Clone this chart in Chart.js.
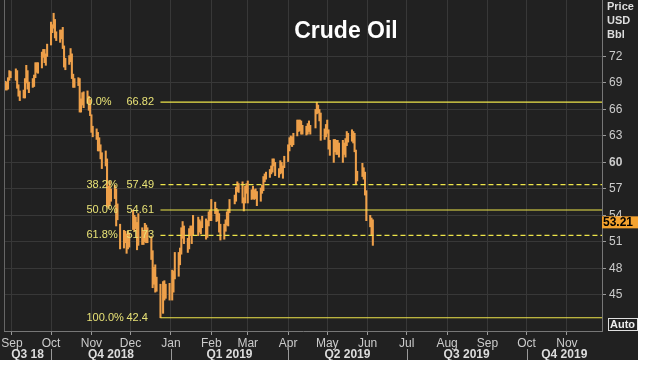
<!DOCTYPE html>
<html>
<head>
<meta charset="utf-8">
<script src="https://cdn.jsdelivr.net/npm/chart.js@4.4.1/dist/chart.umd.min.js"></script>
<style>
html, body { margin:0; padding:0; background:#fff; }
#wrap { position:absolute; left:0; top:0; width:638px; height:360px; }
</style>
</head>
<body>
<div id="wrap"><canvas id="chart" width="638" height="360"></canvas></div>
<script>
// ==========================================================
// DATA
// ==========================================================

const tradeDates = [
  "2018-08-27","2018-08-28","2018-08-29","2018-08-30","2018-08-31",
  "2018-09-04","2018-09-05","2018-09-06","2018-09-07","2018-09-10","2018-09-11","2018-09-12","2018-09-13","2018-09-14","2018-09-17",
  "2018-09-18","2018-09-19","2018-09-20","2018-09-21","2018-09-24","2018-09-25","2018-09-26","2018-09-27","2018-09-28",
  "2018-10-01","2018-10-02","2018-10-03","2018-10-04","2018-10-05","2018-10-08","2018-10-09","2018-10-10","2018-10-11","2018-10-12",
  "2018-10-15","2018-10-16","2018-10-17","2018-10-18","2018-10-19","2018-10-22","2018-10-23","2018-10-24","2018-10-25","2018-10-26",
  "2018-10-29","2018-10-30","2018-10-31",
  "2018-11-01","2018-11-02","2018-11-05","2018-11-06","2018-11-07","2018-11-08","2018-11-09","2018-11-12","2018-11-13","2018-11-14",
  "2018-11-15","2018-11-16","2018-11-19","2018-11-20","2018-11-21","2018-11-23","2018-11-26","2018-11-27","2018-11-28","2018-11-29","2018-11-30",
  "2018-12-03","2018-12-04","2018-12-05","2018-12-06","2018-12-07","2018-12-10","2018-12-11","2018-12-12","2018-12-13","2018-12-14",
  "2018-12-17","2018-12-18","2018-12-19","2018-12-20","2018-12-21","2018-12-24","2018-12-26","2018-12-27","2018-12-28","2018-12-31",
  "2019-01-02","2019-01-03","2019-01-04","2019-01-07","2019-01-08","2019-01-09","2019-01-10","2019-01-11","2019-01-14","2019-01-15",
  "2019-01-16","2019-01-17","2019-01-18","2019-01-22","2019-01-23","2019-01-24","2019-01-25","2019-01-28","2019-01-29","2019-01-30","2019-01-31",
  "2019-02-01","2019-02-04","2019-02-05","2019-02-06","2019-02-07","2019-02-08","2019-02-11","2019-02-12","2019-02-13","2019-02-14",
  "2019-02-15","2019-02-19","2019-02-20","2019-02-21","2019-02-22","2019-02-25","2019-02-26","2019-02-27","2019-02-28",
  "2019-03-01","2019-03-04","2019-03-05","2019-03-06","2019-03-07","2019-03-08","2019-03-11","2019-03-12","2019-03-13","2019-03-14",
  "2019-03-15","2019-03-18","2019-03-19","2019-03-20","2019-03-21","2019-03-22","2019-03-25","2019-03-26","2019-03-27","2019-03-28","2019-03-29",
  "2019-04-01","2019-04-02","2019-04-03","2019-04-04","2019-04-05","2019-04-08","2019-04-09","2019-04-10","2019-04-11","2019-04-12",
  "2019-04-15","2019-04-16","2019-04-17","2019-04-18","2019-04-22","2019-04-23","2019-04-24","2019-04-25","2019-04-26","2019-04-29","2019-04-30",
  "2019-05-01","2019-05-02","2019-05-03","2019-05-06","2019-05-07","2019-05-08","2019-05-09","2019-05-10","2019-05-13","2019-05-14","2019-05-15",
  "2019-05-16","2019-05-17","2019-05-20","2019-05-21","2019-05-22","2019-05-23","2019-05-24","2019-05-28","2019-05-29","2019-05-30","2019-05-31",
  "2019-06-03","2019-06-04","2019-06-05"
];

const highs = [
  69.2, 69.1, 69.6, 70.4, 70.3,
  70.6, 70.4, 68.8, 68.1, 68.2, 69.5, 71.0, 70.4, 69.1, 69.5, 69.9, 71.3, 71.3, 71.3, 72.5, 72.8, 72.8, 72.3, 73.4,
  75.9, 75.6, 76.9, 76.2, 74.8, 75.0, 75.0, 75.3, 73.2, 71.8, 72.1, 72.9, 72.3, 70.0, 69.5, 69.6, 69.5, 67.2, 67.9, 68.0, 68.1, 67.5, 67.1,
  65.4, 64.1, 63.8, 63.4, 62.8, 62.0, 61.1, 61.3, 60.4, 57.3, 57.9, 57.0, 57.4, 57.0, 55.3, 53.0, 52.3, 52.2, 51.9, 52.2, 52.0,
  54.6, 54.0, 53.8, 53.2, 54.2, 52.6, 52.2, 53.1, 52.9, 52.6, 51.6, 50.0, 48.1, 48.4, 47.0, 46.2, 46.5, 46.6, 46.2, 46.3,
  47.8, 47.7, 49.8, 49.8, 50.3, 52.6, 53.3, 52.8, 51.4, 52.5, 52.8, 52.8, 54.0, 53.8, 53.5, 53.3, 53.9, 53.6, 53.4, 54.4, 54.6,
  55.8, 55.5, 54.8, 54.6, 54.2, 53.0, 53.0, 53.5, 54.4, 54.7, 55.8, 56.3, 57.2, 57.8, 57.6, 57.8, 56.0, 57.3, 57.6,
  57.9, 56.9, 57.3, 56.9, 57.0, 56.7, 57.1, 57.4, 58.4, 58.7, 58.9, 59.2, 59.6, 60.4, 60.4, 60.0, 59.3, 60.2, 60.0, 59.6, 60.7,
  62.0, 62.8, 63.0, 62.9, 63.3, 64.8, 64.8, 64.8, 64.7, 64.2, 64.1, 64.4, 64.7, 64.2, 66.0, 66.82, 66.5, 66.0, 65.6, 63.8, 64.3,
  64.8, 63.7, 62.5, 62.6, 62.6, 62.5, 62.5, 62.2, 62.5, 62.2, 62.7, 63.5, 63.3, 63.7, 63.5, 63.3, 61.4, 59.0, 59.9, 59.4, 58.9, 56.8,
  54.0, 53.7, 53.5
];

const lows = [
  68.2, 68.2, 68.3, 69.3, 69.6,
  69.3, 68.4, 67.5, 67.0, 67.3, 67.3, 69.0, 68.3, 67.9, 68.5, 68.6, 69.6, 70.2, 70.1, 70.7, 71.9, 71.3, 71.0, 72.0,
  73.3, 74.7, 75.2, 74.1, 73.8, 73.6, 74.0, 72.9, 70.8, 70.5, 71.1, 71.4, 69.5, 68.5, 68.5, 68.7, 65.7, 65.7, 66.5, 66.2, 66.7, 65.9, 65.3,
  63.4, 62.9, 62.6, 61.3, 61.3, 60.4, 59.3, 59.6, 55.0, 54.8, 55.1, 55.6, 55.9, 52.8, 53.5, 50.2, 50.3, 50.9, 49.7, 50.2, 50.4,
  52.4, 52.2, 52.5, 50.1, 50.6, 50.7, 50.7, 51.0, 50.9, 50.9, 49.0, 45.8, 46.2, 45.3, 45.4, 42.4, 42.9, 44.4, 44.6, 44.4,
  44.4, 45.3, 46.8, 47.1, 48.4, 49.6, 51.4, 50.8, 49.8, 50.2, 51.7, 50.8, 51.8, 51.7, 52.1, 51.9, 52.6, 51.3, 51.5, 52.8, 53.4,
  53.4, 54.2, 53.3, 53.4, 52.1, 51.2, 51.3, 52.2, 52.9, 52.8, 54.3, 55.3, 55.6, 56.7, 56.6, 55.4, 54.5, 55.4, 56.5,
  55.4, 55.8, 55.9, 55.8, 55.9, 55.1, 55.6, 56.5, 56.8, 57.8, 58.1, 58.3, 58.7, 58.9, 59.6, 58.5, 58.3, 58.7, 58.8, 58.2, 59.4,
  60.1, 61.3, 62.0, 61.8, 62.0, 63.0, 63.5, 63.6, 63.2, 63.2, 63.1, 63.2, 63.5, 63.2, 63.9, 65.5, 65.6, 64.7, 62.5, 62.6, 62.9,
  63.3, 61.5, 60.8, 60.0, 61.2, 60.9, 60.9, 60.6, 60.0, 60.9, 60.6, 61.9, 62.3, 62.4, 62.2, 61.2, 57.5, 57.9, 58.4, 58.1, 56.3, 53.4,
  52.7, 51.7, 50.6
];

const lastPrice = 53.21;

// Fibonacci retracement from the Dec 24 low to the Apr high
const fibStartDate = "2018-12-24";
const fibPcts   = ["0.0%", "38.2%", "50.0%", "61.8%", "100.0%"];
const fibLevels = [66.82, 57.49, 54.61, 51.73, 42.4];

const yTicks = [45, 48, 51, 54, 57, 60, 63, 66, 69, 72];
const monthLabels = ["Sep","Oct","Nov","Dec","Jan","Feb","Mar","Apr","May","Jun","Jul","Aug","Sep","Oct","Nov"];
const quarterLabels = ["Q3 18","Q4 2018","Q1 2019","Q2 2019","Q3 2019","Q4 2019"];
const quarterStarts = ["2018-07-01","2018-10-01","2019-01-01","2019-04-01","2019-07-01","2019-10-01","2020-01-01"];


// ==========================================================
// HELPERS
// ==========================================================

const BASE = Date.UTC(2018, 8, 1);
function dayOffset(s)
{
    return (Date.UTC(+s.slice(0,4), +s.slice(5,7) - 1, +s.slice(8,10)) - BASE) / 864e5;
}

const X_MIN = -6.1, X_MAX = 452.9;
const Y_MIN = 40.9, Y_MAX = 78.4;
const FONT = "'Liberation Sans', Arial, sans-serif";

const monthStarts = monthLabels.map((m, i) => (Date.UTC(2018, 8 + i, 1) - BASE) / 864e5);
const fibStart = dayOffset(fibStartDate);

const barData = tradeDates.map((d, i) => ({ x: dayOffset(d), y: [lows[i], highs[i]] }));

const isDashed = p => p === "38.2%" || p === "61.8%";

const fibSets = fibLevels.map((lvl, i) => ({
    type: "line",
    data: [{ x: fibStart, y: lvl }, { x: X_MAX, y: lvl }],
    borderColor: "#eee54a",
    borderWidth: 1.2,
    borderDash: isDashed(fibPcts[i]) ? [5, 3] : [],
    pointRadius: 0,
    order: 0
}));

function noPad(s)
{
    s.paddingTop = 0; s.paddingBottom = 0;
    s.paddingLeft = 0; s.paddingRight = 0;
}


// ==========================================================
// PLUGINS
// ==========================================================

const background = {
    id: "background",
    beforeDraw(chart)
    {
        const c = chart.ctx;
        c.save();
        c.fillStyle = "#212121";
        c.fillRect(0, 0, chart.width, chart.height);
        c.restore();
    }
};

const fibLabels = {
    id: "fibLabels",
    afterDatasetsDraw(chart)
    {
        const c = chart.ctx, xs = chart.scales.x, ys = chart.scales.y;
        const x0 = xs.getPixelForValue(fibStart);
        c.save();
        c.font = "11px " + FONT;
        c.fillStyle = "#e8e276";
        c.textBaseline = "middle";
        c.textAlign = "left";
        fibLevels.forEach((lvl, i) =>
        {
            const y = ys.getPixelForValue(lvl);
            c.fillText(fibPcts[i], x0 - 74, y);
            c.fillText(String(lvl), x0 - 34, y);
        });
        c.restore();
    }
};

const extras = {
    id: "extras",
    afterDraw(chart)
    {
        const c = chart.ctx, xs = chart.scales.x, ys = chart.scales.y, a = chart.chartArea;
        c.save();

        // left frame line
        c.strokeStyle = "#666";
        c.lineWidth = 1;
        c.beginPath();
        c.moveTo(a.left + 0.5, a.top);
        c.lineTo(a.left + 0.5, a.bottom);
        c.stroke();

        // title
        c.fillStyle = "#ffffff";
        c.font = "bold 23px " + FONT;
        c.textAlign = "center";
        c.textBaseline = "alphabetic";
        c.fillText("Crude Oil", 346, 38);

        // unit label
        c.fillStyle = "#dddddd";
        c.font = "bold 11px " + FONT;
        c.textAlign = "left";
        c.fillText("Price", 607, 10);
        c.fillText("USD", 607, 24);
        c.fillText("Bbl", 607, 38);

        // quarter row
        c.font = "bold 12px " + FONT;
        c.textAlign = "center";
        c.textBaseline = "middle";
        c.fillStyle = "#dddddd";
        c.strokeStyle = "#999";
        for (let i = 0; i < quarterLabels.length; i++)
        {
            const s = Math.max(dayOffset(quarterStarts[i]), X_MIN);
            const e = Math.min(dayOffset(quarterStarts[i + 1]), X_MAX);
            const ps = xs.getPixelForValue(s), pe = xs.getPixelForValue(e);
            c.fillText(quarterLabels[i], (ps + pe) / 2, 355);
            if (dayOffset(quarterStarts[i]) > X_MIN)
            {
                c.beginPath();
                c.moveTo(Math.round(ps) + 0.5, 349);
                c.lineTo(Math.round(ps) + 0.5, 360);
                c.stroke();
            }
        }

        // last price box
        const yp = ys.getPixelForValue(lastPrice);
        c.fillStyle = "#f4a22e";
        c.fillRect(a.right, yp - 6, chart.width - a.right, 12);
        c.fillStyle = "#000";
        c.font = "bold 12px " + FONT;
        c.textAlign = "left";
        c.fillText(lastPrice.toFixed(2), a.right + 1, yp + 0.5);

        // Auto box
        c.strokeStyle = "#e0e0e0";
        c.strokeRect(608.5, 318.5, 29, 12);
        c.fillStyle = "#eeeeee";
        c.font = "bold 11px " + FONT;
        c.fillText("Auto", 610, 325);

        c.restore();
    }
};


// ==========================================================
// CHART
// ==========================================================

new Chart(document.getElementById("chart"),
{
    type: "bar",
    data: {
        datasets: [
            ...fibSets,
            {
                type: "bar",
                data: barData,
                backgroundColor: "#eea04a",
                barThickness: 1.4,
                order: 1
            }
        ]
    },
    options: {
        responsive: false,
        animation: false,
        layout: { padding: { left: 4, top: 0, right: 0, bottom: 0 } },
        plugins: { legend: { display: false }, tooltip: { enabled: false } },
        scales: {
            x: {
                type: "linear",
                min: X_MIN,
                max: X_MAX,
                offset: false,
                afterBuildTicks: s => { s.ticks = monthStarts.map(v => ({ value: v })); },
                afterFit: s => { s.height = 29; noPad(s); },
                ticks: {
                    autoSkip: false,
                    maxRotation: 0,
                    padding: 1,
                    color: "#cccccc",
                    font: { family: FONT, size: 12 },
                    callback: (v, i) => monthLabels[i]
                },
                grid: { color: "#383838", tickColor: "#999", tickLength: 4, offset: false },
                border: { color: "#777" }
            },
            y: {
                type: "linear",
                position: "right",
                min: Y_MIN,
                max: Y_MAX,
                afterBuildTicks: s => { s.ticks = yTicks.map(v => ({ value: v })); },
                afterFit: s => { s.width = 36; noPad(s); },
                ticks: {
                    padding: 3,
                    color: "#cccccc",
                    font: ctx => ({ family: FONT, size: 12, weight: (ctx.tick && ctx.tick.value === 60) ? "bold" : "normal" })
                },
                grid: { color: "#383838", tickColor: "#999", tickLength: 4 },
                border: { color: "#777" }
            }
        }
    },
    plugins: [background, fibLabels, extras]
});
</script>
</body>
</html>
